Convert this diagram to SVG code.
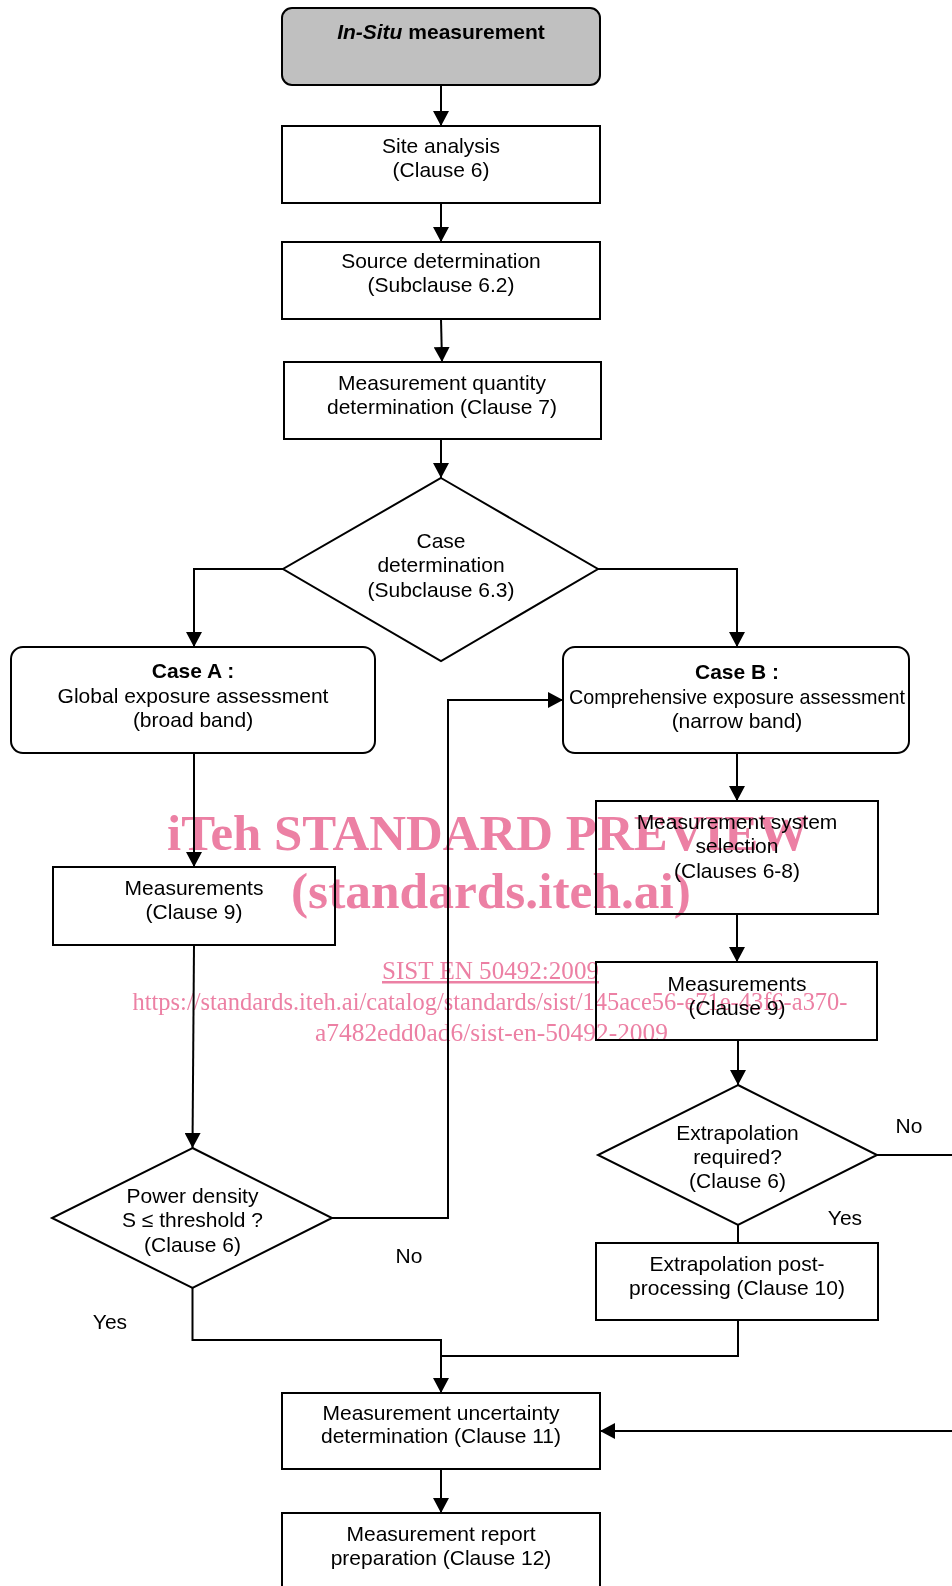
<svg xmlns="http://www.w3.org/2000/svg" width="952" height="1586" viewBox="0 0 952 1586">
<style>
.bx{fill:#fff;stroke:#000;stroke-width:2}
.st{fill:#c0c0c0;stroke:#000;stroke-width:2}
.t{font-family:"Liberation Sans",Arial,sans-serif;font-size:21px;fill:#000;text-anchor:middle}
.b{font-weight:bold}
.ln{fill:none;stroke:#000;stroke-width:2}
.wm{font-family:"Liberation Serif","Times New Roman",serif;fill:#ec80a4;text-anchor:middle}
#watermark{mix-blend-mode:multiply}
</style>
<defs>
<marker id="ah" markerUnits="userSpaceOnUse" markerWidth="16" markerHeight="16" refX="15" refY="8" orient="auto">
<path d="M0,0 L15,8 L0,16 z" fill="#000"/>
</marker>
</defs>
<rect width="952" height="1586" fill="#fff"/>
<g id="connectors">
<path class="ln" d="M441,85 V126" marker-end="url(#ah)"/>
<path class="ln" d="M441,203 V242" marker-end="url(#ah)"/>
<path class="ln" d="M441,319 L442,362" marker-end="url(#ah)"/>
<path class="ln" d="M441,439 V478" marker-end="url(#ah)"/>
<path class="ln" d="M283,569 H194 V647" marker-end="url(#ah)"/>
<path class="ln" d="M598,569 H737 V647" marker-end="url(#ah)"/>
<path class="ln" d="M194,753 V867" marker-end="url(#ah)"/>
<path class="ln" d="M737,753 V801" marker-end="url(#ah)"/>
<path class="ln" d="M737,914 V962" marker-end="url(#ah)"/>
<path class="ln" d="M194,945 L192.5,1148" marker-end="url(#ah)"/>
<path class="ln" d="M332,1218 H448 V700 H563" marker-end="url(#ah)"/>
<path class="ln" d="M738,1040 V1085" marker-end="url(#ah)"/>
<path class="ln" d="M738,1225 V1243"/>
<path class="ln" d="M877,1155 H952"/>
<path class="ln" d="M192.5,1288 V1340 H441 V1393" marker-end="url(#ah)"/>
<path class="ln" d="M738,1320 V1356 H441"/>
<path class="ln" d="M952,1431 H600" marker-end="url(#ah)"/>
<path class="ln" d="M441,1469 V1513" marker-end="url(#ah)"/>
</g>
<g id="start">
<rect class="st" x="282" y="8" width="318" height="77" rx="10"/>
<text class="t b" x="441" y="39"><tspan font-style="italic">In-Situ</tspan> measurement</text>
</g>
<g id="site">
<rect class="bx" x="282" y="126" width="318" height="77"/>
<text class="t" x="441" y="153">Site analysis</text>
<text class="t" x="441" y="177">(Clause 6)</text>
</g>
<g id="source">
<rect class="bx" x="282" y="242" width="318" height="77"/>
<text class="t" x="441" y="268">Source determination</text>
<text class="t" x="441" y="292">(Subclause 6.2)</text>
</g>
<g id="quantity">
<rect class="bx" x="284" y="362" width="317" height="77"/>
<text class="t" x="442" y="390">Measurement quantity</text>
<text class="t" x="442" y="414">determination (Clause 7)</text>
</g>
<g id="case">
<polygon class="bx" points="441,478 598,569 441,661 283,569"/>
<text class="t" x="441" y="548">Case</text>
<text class="t" x="441" y="572">determination</text>
<text class="t" x="441" y="597">(Subclause 6.3)</text>
</g>
<g id="caseA">
<rect class="bx" x="11" y="647" width="364" height="106" rx="12"/>
<text class="t b" x="193" y="678">Case A :</text>
<text class="t" x="193" y="703">Global exposure assessment</text>
<text class="t" x="193" y="727">(broad band)</text>
</g>
<g id="caseB">
<rect class="bx" x="563" y="647" width="346" height="106" rx="12"/>
<text class="t b" x="737" y="679">Case B :</text>
<text class="t" x="737" y="704" textLength="336" lengthAdjust="spacingAndGlyphs">Comprehensive exposure assessment</text>
<text class="t" x="737" y="728">(narrow band)</text>
</g>
<g id="measA">
<rect class="bx" x="53" y="867" width="282" height="78"/>
<text class="t" x="194" y="895">Measurements</text>
<text class="t" x="194" y="919">(Clause 9)</text>
</g>
<g id="mss">
<rect class="bx" x="596" y="801" width="282" height="113"/>
<text class="t" x="737" y="829">Measurement system</text>
<text class="t" x="737" y="853">selection</text>
<text class="t" x="737" y="878">(Clauses 6-8)</text>
</g>
<g id="measB">
<rect class="bx" x="596" y="962" width="281" height="78"/>
<text class="t" x="737" y="991">Measurements</text>
<text class="t" x="737" y="1015">(Clause 9)</text>
</g>
<g id="power">
<polygon class="bx" points="192.5,1148 332,1218 192.5,1288 52,1218"/>
<text class="t" x="192.5" y="1203">Power density</text>
<text class="t" x="192.5" y="1227">S ≤ threshold ?</text>
<text class="t" x="192.5" y="1252">(Clause 6)</text>
</g>
<g id="extrap">
<polygon class="bx" points="738,1085 877,1155 738,1225 598,1155"/>
<text class="t" x="737.5" y="1140">Extrapolation</text>
<text class="t" x="737.5" y="1164">required?</text>
<text class="t" x="737.5" y="1188">(Clause 6)</text>
</g>
<g id="epp">
<rect class="bx" x="596" y="1243" width="282" height="77"/>
<text class="t" x="737" y="1271">Extrapolation post-</text>
<text class="t" x="737" y="1295">processing (Clause 10)</text>
</g>
<g id="uncert">
<rect class="bx" x="282" y="1393" width="318" height="76"/>
<text class="t" x="441" y="1420">Measurement uncertainty</text>
<text class="t" x="441" y="1443">determination (Clause 11)</text>
</g>
<g id="report">
<rect class="bx" x="282" y="1513" width="318" height="90"/>
<text class="t" x="441" y="1541">Measurement report</text>
<text class="t" x="441" y="1565">preparation (Clause 12)</text>
</g>
<g id="labels">
<text class="t" x="409" y="1263">No</text>
<text class="t" x="110" y="1329">Yes</text>
<text class="t" x="909" y="1133">No</text>
<text class="t" x="845" y="1225">Yes</text>
</g>
<g id="watermark">
<text class="wm" x="488" y="850" font-size="50" font-weight="bold" textLength="642" lengthAdjust="spacingAndGlyphs">iTeh STANDARD PREVIEW</text>
<text class="wm" x="491" y="908" font-size="50" font-weight="bold" textLength="400" lengthAdjust="spacingAndGlyphs">(standards.iteh.ai)</text>
<text class="wm" x="490.5" y="979" font-size="25" text-decoration="underline" textLength="217" lengthAdjust="spacingAndGlyphs">SIST EN 50492:2009</text>
<text class="wm" x="490" y="1010" font-size="25" textLength="715" lengthAdjust="spacingAndGlyphs">https://standards.iteh.ai/catalog/standards/sist/145ace56-e71e-43f6-a370-</text>
<text class="wm" x="491.5" y="1041" font-size="25" textLength="353" lengthAdjust="spacingAndGlyphs">a7482edd0ad6/sist-en-50492-2009</text>
</g>
</svg>
